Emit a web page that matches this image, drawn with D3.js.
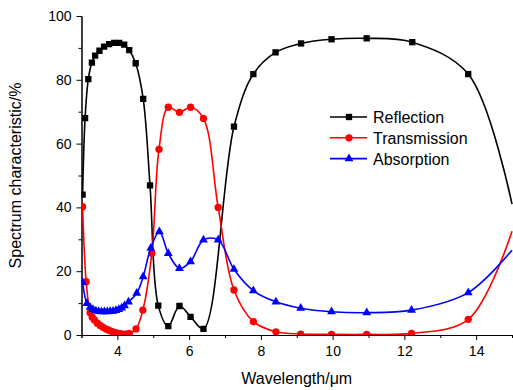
<!DOCTYPE html>
<html>
<head>
<meta charset="utf-8">
<script src="https://cdn.jsdelivr.net/npm/d3@7"></script>
<style>
  body { margin: 0; background: #fff; }
  svg { display: block; font-family: Arial, "Liberation Sans", sans-serif; }
  .axis path, .axis line { stroke: #000; stroke-width: 1; }
  .axis text { font-size: 14px; fill: #000; }
</style>
</head>
<body>
<div id="container"></div>
<script>
// values
const reflectionX = [3.03, 3.10, 3.19, 3.29, 3.38, 3.50, 3.63, 3.77, 3.91, 4.05, 4.19, 4.33, 4.51, 4.72, 4.91, 5.14, 5.42, 5.73, 6.04, 6.40, 7.25, 7.79, 8.41, 9.12, 9.97, 10.95, 12.22, 13.78, 15];
const reflection = [44, 68, 80.2, 85.4, 87.6, 89.1, 90.4, 91.2, 91.6, 91.6, 91.0, 89.3, 85.2, 74, 46.9, 9.2, 2.8, 9.1, 5.7, 1.9, 65.3, 81.8, 88.6, 91.4, 92.7, 93.0, 91.8, 81.8, 41];

const transmissionX = [3.03, 3.13, 3.24, 3.30, 3.36, 3.44, 3.52, 3.60, 3.68, 3.76, 3.84, 3.92, 4.00, 4.08, 4.16, 4.24, 4.33, 4.52, 4.71, 4.96, 5.16, 5.42, 5.73, 6.04, 6.40, 6.81, 7.25, 7.79, 8.42, 9.11, 9.97, 10.95, 12.2, 13.78, 15];
const transmission = [40.2, 16.7, 7.0, 5.6, 4.7, 3.7, 3.0, 2.4, 1.9, 1.5, 1.1, 0.8, 0.6, 0.4, 0.3, 0.3, 0.5, 1.9, 7.8, 25.6, 58.2, 71.4, 69.8, 71.4, 67.9, 40.0, 14.1, 4.2, 1.0, 0.3, 0.2, 0.2, 0.5, 4.9, 32.5];

const absorptionX = [3.03, 3.15, 3.24, 3.32, 3.40, 3.48, 3.56, 3.64, 3.72, 3.80, 3.88, 3.96, 4.04, 4.12, 4.20, 4.31, 4.54, 4.72, 4.93, 5.17, 5.42, 5.73, 6.04, 6.40, 6.81, 7.25, 7.79, 8.42, 9.11, 9.97, 10.95, 12.2, 13.78, 15];
const absorption = [16.5, 9.9, 8.7, 8.0, 7.6, 7.4, 7.3, 7.3, 7.3, 7.4, 7.5, 7.7, 8.0, 8.5, 9.2, 10.4, 13.1, 18.3, 27.2, 32.4, 25.6, 20.9, 23.0, 29.8, 29.8, 20.6, 13.9, 10.4, 8.4, 7.3, 7.0, 7.8, 13.3, 26.6];

const xTicks = [4, 6, 8, 10, 12, 14];
const xMinorTicks = [3, 5, 7, 9, 11, 13, 15];
const yTicks = [0, 20, 40, 60, 80, 100];
const yMinorTicks = [10, 30, 50, 70, 90];

const series = [
  { name: 'Reflection', color: '#000000', shape: d3.symbolSquare, size: 40, x: reflectionX, y: reflection },
  { name: 'Transmission', color: '#ff0000', shape: d3.symbolCircle, size: 42, x: transmissionX, y: transmission },
  { name: 'Absorption', color: '#0000ff', shape: d3.symbolTriangle, size: 34, x: absorptionX, y: absorption }
];

const width = 513;
const height = 390;
const margin = { left: 81.5, right: 1, top: 16, bottom: 55 };

const svg = d3.select('#container').append('svg')
  .attr('width', width)
  .attr('height', height);

const xScale = d3.scaleLinear()
  .domain([3, 15])
  .range([margin.left, width - margin.right]);

const yScale = d3.scaleLinear()
  .domain([0, 100])
  .range([height - margin.bottom, margin.top]);

// axes
svg.append('g')
  .attr('class', 'axis')
  .attr('transform', `translate(0, ${yScale(0)})`)
  .call(d3.axisBottom(xScale).tickValues(xMinorTicks).tickSize(3).tickFormat(''));
svg.append('g')
  .attr('class', 'x axis')
  .attr('transform', `translate(0, ${yScale(0)})`)
  .call(d3.axisBottom(xScale).tickValues(xTicks).tickSize(5).tickSizeOuter(0).tickPadding(6).tickFormat(d3.format('d')));

svg.append('g')
  .attr('class', 'axis')
  .attr('transform', `translate(${xScale(3)}, 0)`)
  .call(d3.axisLeft(yScale).tickValues(yMinorTicks).tickSize(3).tickFormat(''));
svg.append('g')
  .attr('class', 'y axis')
  .attr('transform', `translate(${xScale(3)}, 0)`)
  .call(d3.axisLeft(yScale).tickValues(yTicks).tickSize(5).tickSizeOuter(0).tickPadding(5).tickFormat(d3.format('d')));

// axis titles
svg.append('text')
  .attr('x', (xScale.range()[0] + xScale.range()[1]) / 2)
  .attr('y', 384)
  .attr('text-anchor', 'middle')
  .style('font-size', '16px')
  .text('Wavelength/\u03bcm');

svg.append('text')
  .attr('transform', `translate(21, ${(yScale(0) + yScale(100)) / 2}) rotate(-90)`)
  .attr('text-anchor', 'middle')
  .style('font-size', '16px')
  .text('Spectrum characteristic/%');

// curves
svg.append('clipPath').attr('id', 'plot-clip')
  .append('rect')
  .attr('x', xScale(3))
  .attr('y', 0)
  .attr('width', xScale(15) - xScale(3) + 1)
  .attr('height', yScale(0));

const line = d3.line()
  .x(d => xScale(d[0]))
  .y(d => yScale(d[1]))
  .curve(d3.curveCatmullRom.alpha(0.5));

const plot = svg.append('g').attr('clip-path', 'url(#plot-clip)');

series.forEach(s => {
  const points = s.x.map((x, i) => [x, s.y[i]]);
  plot.append('path')
    .datum(points)
    .attr('fill', 'none')
    .attr('stroke', s.color)
    .attr('stroke-width', 1.6)
    .attr('d', line);

  // the end point at the right border carries no marker
  plot.append('g').selectAll('path')
    .data(points.filter(d => d[0] < 15))
    .enter().append('path')
    .attr('transform', d => `translate(${xScale(d[0])}, ${yScale(d[1])})`)
    .attr('d', d3.symbol().type(s.shape).size(s.size))
    .attr('fill', s.color);
});

// legend
const legend = svg.append('g').attr('transform', 'translate(330, 117)');
series.forEach((s, i) => {
  const row = legend.append('g').attr('transform', `translate(0, ${i * 20.8})`);
  row.append('line')
    .attr('x1', 0).attr('x2', 37)
    .attr('stroke', s.color)
    .attr('stroke-width', 1.6);
  row.append('path')
    .attr('transform', 'translate(19, 0)')
    .attr('d', d3.symbol().type(s.shape).size(s.size))
    .attr('fill', s.color);
  row.append('text')
    .attr('x', 43)
    .attr('y', 6)
    .style('font-size', '16px')
    .text(s.name);
});
</script>
</body>
</html>
